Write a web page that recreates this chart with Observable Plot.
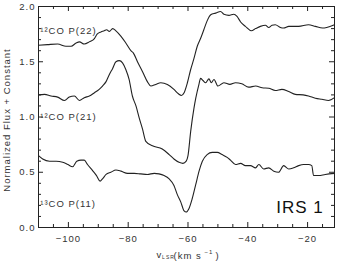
<!DOCTYPE html>
<html><head><meta charset="utf-8">
<script src="https://cdn.jsdelivr.net/npm/d3@7"></script>
<script src="https://cdn.jsdelivr.net/npm/@observablehq/plot@0.6"></script>
<style>html,body{margin:0;padding:0;background:#fff;}</style>
</head><body><div id="chart"></div>
<script>
// ---- data ----
const v22 = [-110,-107,-103.6,-100.8,-99.1,-97.4,-96.3,-94.7,-93,-91.3,-90.4,-89.1,-88,-87.2,-86.3,-85.2,-84.1,-82.4,-80.8,-79.1,-78.3,-76.9,-75.2,-73.6,-72.4,-70.8,-69.1,-66.9,-64.7,-63.2,-62.2,-61.3,-60.2,-59.1,-58,-56.9,-55.8,-54.7,-53.6,-52.4,-50.8,-49.1,-48,-46.3,-44.7,-43.6,-42.4,-40.8,-38.8,-37.4,-35.8,-34.1,-33,-31.9,-30.8,-29.1,-28,-26.3,-23,-19.7,-17.4,-15,-13.6,-11];
const f22 = [1.65,1.655,1.66,1.64,1.64,1.67,1.68,1.66,1.68,1.71,1.75,1.77,1.78,1.79,1.775,1.80,1.78,1.73,1.67,1.60,1.58,1.50,1.41,1.32,1.28,1.295,1.31,1.295,1.25,1.21,1.195,1.22,1.31,1.43,1.53,1.64,1.71,1.79,1.87,1.925,1.94,1.955,1.93,1.92,1.93,1.91,1.86,1.82,1.78,1.80,1.82,1.83,1.81,1.83,1.835,1.81,1.805,1.82,1.82,1.835,1.82,1.805,1.81,1.835];

const v21 = [-110,-108,-105.8,-103.6,-101.3,-99.7,-98,-96.3,-94.7,-93,-91.3,-89.7,-88.6,-87.4,-86.3,-85.2,-84.1,-83,-81.9,-80.8,-79.7,-78.6,-77.4,-76.3,-75.2,-74.1,-71.9,-68.6,-66.3,-64.7,-63,-61.7,-60.6,-60,-59.1,-58,-57.4,-56.3,-55.8,-55,-54.1,-53,-52.2,-51.3,-50,-48,-46,-44.1,-42,-39.7,-37.4,-35.2,-33,-30.8,-28.6,-26.3,-24.1,-21.5,-19.7,-17.4,-15.2,-13,-11];
const f21 = [1.20,1.205,1.19,1.18,1.15,1.18,1.19,1.15,1.175,1.19,1.22,1.25,1.28,1.32,1.385,1.44,1.50,1.51,1.49,1.43,1.34,1.19,1.10,0.99,0.89,0.78,0.74,0.71,0.66,0.62,0.59,0.58,0.60,0.65,0.87,1.08,1.17,1.30,1.35,1.33,1.31,1.345,1.31,1.34,1.28,1.31,1.295,1.31,1.30,1.27,1.28,1.265,1.26,1.24,1.25,1.23,1.205,1.20,1.19,1.17,1.16,1.15,1.175];

const v11 = [-110,-108.6,-106.3,-104.1,-101.9,-100.2,-98.6,-97.2,-95.8,-94.7,-93.6,-91.9,-90.6,-89.4,-88.6,-87.4,-85.8,-84.1,-82.4,-80.2,-78,-75.8,-73.6,-71.3,-69.7,-68,-66.3,-64.7,-63.6,-62.4,-61.3,-60.6,-59.7,-58.6,-57.4,-56.3,-55.2,-53.6,-51.9,-50.2,-48.6,-46.9,-45.8,-44.1,-42.4,-40.8,-39.1,-37.4,-36.3,-34.7,-33,-31.3,-29.7,-28,-26.3,-24.7,-23,-21.3,-19.7,-18.6,-18,-16.3,-14.1,-11];
const f11 = [0.65,0.62,0.60,0.60,0.59,0.57,0.55,0.60,0.61,0.61,0.57,0.515,0.47,0.42,0.44,0.48,0.50,0.52,0.51,0.49,0.49,0.485,0.48,0.49,0.485,0.47,0.44,0.38,0.30,0.23,0.15,0.14,0.17,0.26,0.39,0.51,0.60,0.66,0.68,0.68,0.66,0.635,0.61,0.57,0.58,0.56,0.56,0.54,0.57,0.53,0.54,0.51,0.50,0.56,0.53,0.54,0.56,0.57,0.57,0.56,0.47,0.47,0.48,0.49];

const seriesLabels = ["¹²CO P(22)", "¹²CO P(21)", "¹³CO P(11)"];
const seriesLabelV = [-109.4, -109.4, -109.4];
const seriesLabelF = [1.778, 1.004, 0.215];

const xMajorTicks = [-100, -80, -60, -40, -20];
const xMinorTicks = [-105, -95, -90, -85, -75, -70, -65, -55, -50, -45, -35, -30, -25, -15];
const yMajorTicks = [0, 0.5, 1.0, 1.5, 2.0];
const yMinorTicks = [0.1,0.2,0.3,0.4,0.6,0.7,0.8,0.9,1.1,1.2,1.3,1.4,1.6,1.7,1.8,1.9];
const xDomain = [-110, -11];
const yDomain = [0, 2.0];

// ---- layout ----
const W = 340, H = 262;
const mL = 38, mR = 6, mT = 6, mB = 35;
const pW = W - mL - mR, pH = H - mT - mB;
const majLen = 5, minLen = 3;
const ink = "#222";

const toRows = (vs, fs) => vs.map((v, i) => ({v, f: fs[i]}));
const labelRows = seriesLabels.map((t, i) => ({t, v: seriesLabelV[i], f: seriesLabelF[i]}));

const tickMarks = (list, len) => [
  Plot.tickY(list, {y: d => d, stroke: ink, insetRight: pW - len}),
  Plot.tickY(list, {y: d => d, stroke: ink, insetLeft: pW - len}),
];
const tickMarksX = (list, len) => [
  Plot.tickX(list, {x: d => d, stroke: ink, insetTop: pH - len}),
  Plot.tickX(list, {x: d => d, stroke: ink, insetBottom: pH - len}),
];
const note = (txt, opts) => Plot.text([txt], {text: d => d, lineAnchor: "middle", lineWidth: Infinity, ...opts});

const plot = Plot.plot({
  width: W, height: H,
  marginLeft: mL, marginRight: mR, marginTop: mT, marginBottom: mB,
  x: {domain: xDomain},
  y: {domain: yDomain},
  style: {fontFamily: "'Liberation Sans', Arial, sans-serif", fontSize: "9.5px", letterSpacing: "1px", color: "#333", background: "#fff"},
  marks: [
    ...tickMarks(yMajorTicks, majLen),
    ...tickMarks(yMinorTicks, minLen),
    ...tickMarksX(xMajorTicks, majLen),
    ...tickMarksX(xMinorTicks, minLen),
    Plot.axisY({ticks: yMajorTicks, tickSize: 0, tickPadding: 3, tickFormat: d3.format(".1f"), fontSize: 9.5, label: null}),
    Plot.axisX({ticks: xMajorTicks, tickSize: 0, tickPadding: 8, tickFormat: d3.format("d"), fontSize: 9.5, label: null}),
    Plot.line(toRows(v22, f22), {x: "v", y: "f", stroke: ink, strokeWidth: 1.1, curve: "monotone-x"}),
    Plot.line(toRows(v21, f21), {x: "v", y: "f", stroke: ink, strokeWidth: 1.1, curve: "monotone-x"}),
    Plot.line(toRows(v11, f11), {x: "v", y: "f", stroke: ink, strokeWidth: 1.1, curve: "monotone-x"}),
    Plot.frame({stroke: ink}),
    Plot.text(labelRows, {x: "v", y: "f", text: "t", textAnchor: "start", lineAnchor: "middle", fontSize: 9.5}),
    note("IRS 1", {frameAnchor: "bottom-right", textAnchor: "end", dx: -10.7, dy: -19.7, fontSize: 17, fill: "#111", ariaLabel: "irs-label"}),
    note("Normalized Flux + Constant", {frameAnchor: "left", textAnchor: "middle", rotate: -90, dx: -31.7, dy: 3, fontSize: 9.5, ariaLabel: "ylabel"}),
    note("v", {frameAnchor: "bottom", textAnchor: "start", dx: -30, dy: 27, fontSize: 9.5, ariaLabel: "sub"}),
    note("LSR", {frameAnchor: "bottom", textAnchor: "start", dx: -24.4, dy: 30.2, fontSize: 5, ariaLabel: "sub"}),
    note("(km s", {frameAnchor: "bottom", textAnchor: "start", dx: -13, dy: 28, fontSize: 9.5}),
    note("−1", {frameAnchor: "bottom", textAnchor: "start", dx: 18, dy: 24.5, fontSize: 6, ariaLabel: "sub"}),
    note(")", {frameAnchor: "bottom", textAnchor: "start", dx: 29, dy: 28, fontSize: 9.5})
  ]
});
document.getElementById("chart").appendChild(plot);
d3.select(plot).selectAll('g[aria-label="irs-label"] text').style("letter-spacing", "0px");
d3.select(plot).selectAll('g[aria-label="ylabel"] text').style("letter-spacing", "1.3px");
d3.select(plot).selectAll('g[aria-label="sub"] text').style("letter-spacing", "0.2px");
</script>
</body></html>
